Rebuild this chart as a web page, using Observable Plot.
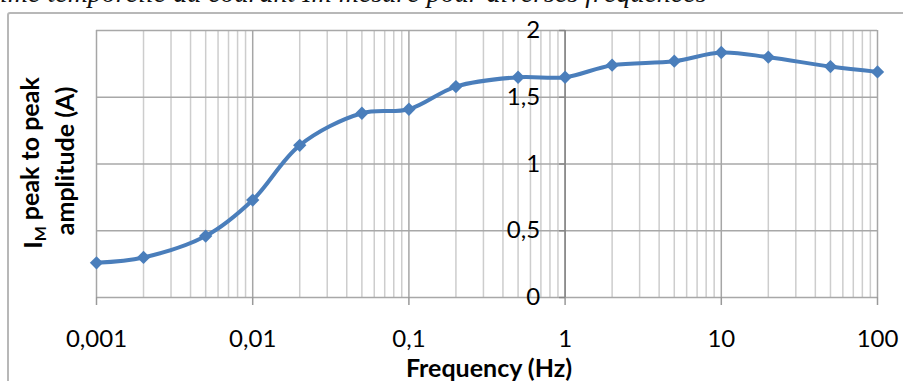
<!DOCTYPE html>
<html>
<head>
<meta charset="utf-8">
<script src="https://cdn.jsdelivr.net/npm/d3@7"></script>
<script src="https://cdn.jsdelivr.net/npm/@observablehq/plot@0.6"></script>
<style>
html, body { margin: 0; padding: 0; background: #fff; }
#wrap { position: relative; width: 903px; height: 381px; overflow: hidden; background: #fff; }
#chart { position: absolute; left: 0; top: 0; }
#title { position: absolute; left: 0; top: -21px; font: italic 28px "Liberation Serif", serif; line-height: 1; white-space: nowrap; color: #111; z-index: 2; }
#frame { position: absolute; left: 7px; top: 12px; width: 1000px; height: 1000px; border: 2px solid #b8b8b8; border-radius: 3px; box-sizing: border-box; z-index: 2; pointer-events: none; }
</style>
</head>
<body>
<div id="wrap">
  <div id="chart"></div>
  <div id="title"></div>
  <div id="frame"></div>
</div>
<script>
// ---- data ----
const freq = [0.001, 0.002, 0.005, 0.01, 0.02, 0.05, 0.1, 0.2, 0.5, 1, 2, 5, 10, 20, 50, 100];
const amp  = [0.26, 0.30, 0.46, 0.73, 1.14, 1.38, 1.41, 1.58, 1.65, 1.65, 1.74, 1.77, 1.835, 1.80, 1.73, 1.69];
const xTicks = [0.001, 0.01, 0.1, 1, 10, 100];
const xTickLabels = ["0,001", "0,01", "0,1", "1", "10", "100"];
const yTicks = [0, 0.5, 1, 1.5, 2];
const yTickLabels = ["0", "0,5", "1", "1,5", "2"];
const yAxisCrossesAt = 1;
const xTitle = "Frequency (Hz)";
const yTitleMain = "I";
const yTitleSub = "M";
const yTitleRest = " peak to peak";
const yTitle2 = "amplitude (A)";
const titleText = "ime temporelle du courant Im mesuré pour diverses fréquences";

document.getElementById("title").textContent = titleText;

const data = freq.map((f, i) => ({f, a: amp[i]}));
const allLogTicks = d3.scaleLog().domain([xTicks[0], xTicks[xTicks.length - 1]]).ticks();
const minorTicks = allLogTicks.filter(t => !xTicks.some(m => Math.abs(m - t) / m < 1e-9));

const hTick = {draw(ctx, size) { const r = Math.sqrt(size / Math.PI); ctx.moveTo(-r, 0); ctx.lineTo(0, 0); }};
const blue = "#4a7ebb";
const yTitle1 = yTitleMain + yTitleSub + yTitleRest;

const chart = Plot.plot({
  width: 903,
  height: 381,
  marginTop: 30,
  marginBottom: 84,
  marginLeft: 96,
  marginRight: 26,
  style: {fontFamily: "Lato, sans-serif", background: "transparent", color: "#000"},
  x: {type: "log", domain: [xTicks[0], xTicks[xTicks.length - 1]]},
  y: {domain: [yTicks[0], yTicks[yTicks.length - 1]]},
  marks: [
    Plot.ruleX(minorTicks, {stroke: "#cdcdcd", strokeWidth: 1.5}),
    Plot.ruleY(yTicks, {stroke: "#a8a8a8", strokeWidth: 1.5}),
    Plot.ruleX(xTicks, {stroke: "#a6a6a6", strokeWidth: 1.5}),
    Plot.axisX({ticks: xTicks, tickFormat: d => xTickLabels[xTicks.indexOf(d)], tickSize: 8, tickPadding: 24, fontSize: 24, stroke: "#999", strokeWidth: 1.5, label: null}),
    Plot.axisY({ticks: [], label: null}),
    Plot.ruleX([yAxisCrossesAt], {stroke: "#868686", strokeWidth: 1.5}),
    Plot.dot(yTicks, {x: () => yAxisCrossesAt, y: d => d, symbol: hTick, r: 6, stroke: "#868686", strokeWidth: 1.5, fill: "none"}),
    Plot.text(yTicks, {x: () => yAxisCrossesAt, y: d => d, text: (d, i) => yTickLabels[i], textAnchor: "end", dx: -25, fontSize: 24, fill: "#000"}),
    Plot.line(data, {x: "f", y: "a", stroke: blue, strokeWidth: 4, curve: "catmull-rom"}),
    Plot.dot(data, {x: "f", y: "a", symbol: "diamond2", r: 6, fill: blue}),
    Plot.text([xTitle], {frameAnchor: "bottom", text: d => d, dy: 79, dx: 2, fontSize: 25, fontWeight: "bold", fill: "#000"}),
    Plot.text([yTitle1], {frameAnchor: "left", textAnchor: "middle", text: d => d, rotate: -90, dx: -63, dy: -1, fontSize: 25, fontWeight: "bold", fill: "#000"}),
    Plot.text([yTitle2], {frameAnchor: "left", textAnchor: "middle", text: d => d, rotate: -90, dx: -31, dy: -3, fontSize: 25, fontWeight: "bold", fill: "#000"})
  ]
});
document.getElementById("chart").appendChild(chart);

// subscript M in the y title
d3.select(chart).selectAll("text").filter(function() { return this.textContent === yTitle1; }).each(function() {
  const t = d3.select(this);
  t.text(null);
  t.append("tspan").text(yTitleMain);
  t.append("tspan").attr("font-size", 16).attr("dy", "0.3em").text(yTitleSub);
  t.append("tspan").attr("dy", "-0.3em").text(yTitleRest);
});
</script>
</body>
</html>
